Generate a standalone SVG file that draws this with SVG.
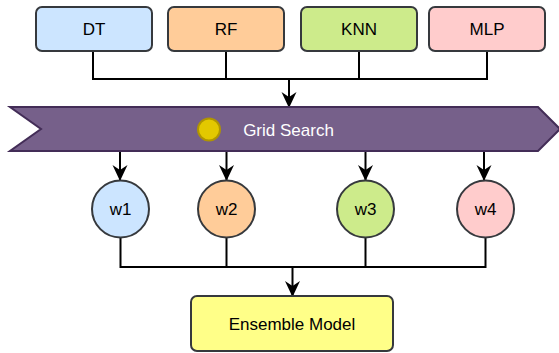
<svg xmlns="http://www.w3.org/2000/svg" width="559" height="353" viewBox="0 0 559 353">
<defs>
<marker id="ah" markerWidth="16" markerHeight="16" refX="15" refY="8" orient="auto" markerUnits="userSpaceOnUse" viewBox="0 0 16 16">
<path d="M0,0.5 L16,8 L0,15.5 L5,8 Z" fill="#000"/>
</marker>
<style>
.box{stroke:#36393d;stroke-width:2}
.ln{fill:none;stroke:#000;stroke-width:2}
.t{font-family:"Liberation Sans",Arial,sans-serif;font-size:17px;fill:#000;text-anchor:middle;dominant-baseline:central}
</style>
</defs>
<g id="connectors">
<path class="ln" d="M93,51 V79 H487 V51"/>
<path class="ln" d="M226,51 V79"/>
<path class="ln" d="M359,51 V79"/>
<path class="ln" d="M289,79 V107" marker-end="url(#ah)"/>
<path class="ln" d="M120,151 V180" marker-end="url(#ah)"/>
<path class="ln" d="M226.5,151 V180" marker-end="url(#ah)"/>
<path class="ln" d="M365.5,151 V180" marker-end="url(#ah)"/>
<path class="ln" d="M484,151 V180" marker-end="url(#ah)"/>
<path class="ln" d="M120.5,238 V267 H485.5 V238"/>
<path class="ln" d="M226.5,238 V267"/>
<path class="ln" d="M365.5,238 V267"/>
<path class="ln" d="M292.5,267 V296" marker-end="url(#ah)"/>
</g>
<g id="dt"><rect class="box" x="36" y="7" width="116" height="44" rx="6" fill="#cce5ff"/><text class="t" x="94" y="29">DT</text></g>
<g id="rf"><rect class="box" x="168" y="7" width="116" height="44" rx="6" fill="#ffcc99"/><text class="t" x="226" y="29">RF</text></g>
<g id="knn"><rect class="box" x="301" y="7" width="116" height="44" rx="6" fill="#cdeb8b"/><text class="t" x="359" y="29">KNN</text></g>
<g id="mlp"><rect class="box" x="429" y="7" width="116" height="44" rx="6" fill="#ffcccc"/><text class="t" x="487" y="29">MLP</text></g>
<g id="grid">
<path d="M10,107 H538 L560,129 L538,151 H10 L41,129 Z" fill="#76608a" stroke="#432d57" stroke-width="2"/>
<circle cx="209" cy="129.5" r="11" fill="#e3c800" stroke="#b09500" stroke-width="2"/>
<text class="t" x="288.5" y="130" style="fill:#fff">Grid Search</text>
</g>
<g id="w1"><circle class="box" cx="120.5" cy="209" r="28.5" fill="#cce5ff"/><text class="t" x="120.5" y="209">w1</text></g>
<g id="w2"><circle class="box" cx="226.5" cy="209" r="28.5" fill="#ffcc99"/><text class="t" x="226.5" y="209">w2</text></g>
<g id="w3"><circle class="box" cx="365.5" cy="209" r="28.5" fill="#cdeb8b"/><text class="t" x="365.5" y="209">w3</text></g>
<g id="w4"><circle class="box" cx="485.5" cy="209" r="28.5" fill="#ffcccc"/><text class="t" x="485.5" y="209">w4</text></g>
<g id="ensemble"><rect class="box" x="191" y="296" width="202" height="55" rx="6" fill="#ffff88"/><text class="t" x="292" y="324">Ensemble Model</text></g>
</svg>
